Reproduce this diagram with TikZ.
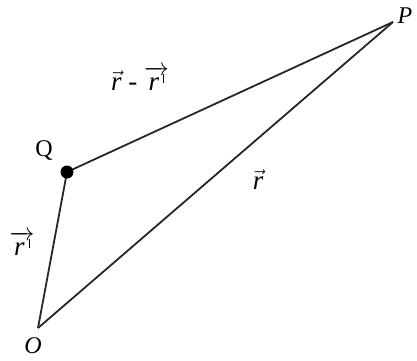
\documentclass[tikz,border=0pt]{standalone}
\usepackage{fontspec}
\setmainfont{Liberation Serif}
\newcommand{\rtick}{\raisebox{0.55ex}{\rule{1pt}{0.75ex}}}
\newcommand{\rpr}{\overrightarrow{\textit{r}\,\rtick}}
\begin{document}
\begin{tikzpicture}[x=1pt,y=-1pt,
  edge/.style={line width=1.8pt,black!85},
  lbl/.style={font=\fontsize{24}{26}\selectfont, inner sep=0pt},
  vlbl/.style={font=\fontsize{27}{29}\selectfont, inner sep=0pt}]
\useasboundingbox (0,0) rectangle (417,360);
\coordinate (O) at (38,328);
\coordinate (Q) at (67,172);
\coordinate (P) at (393,22);
\draw[edge] (O) -- (Q);
\draw[edge] (Q) -- (P);
\draw[edge] (O) -- (P);
\fill (Q) circle (6.5);
\node[lbl] (lP) at (405,16) {\textit{P}};
\node[lbl] (lQ) at (44,150) {Q};
\node[lbl] (lO) at (33,346) {\textit{O}};
\node[vlbl] (lr1) at (22,243) {$\rpr$};
\node[vlbl] (lrr) at (140,78) {$\vec{\textit{r}}$ - $\rpr$};
\node[vlbl] (lr) at (258,180) {$\vec{\textit{r}}$};
\end{tikzpicture}
\end{document}
